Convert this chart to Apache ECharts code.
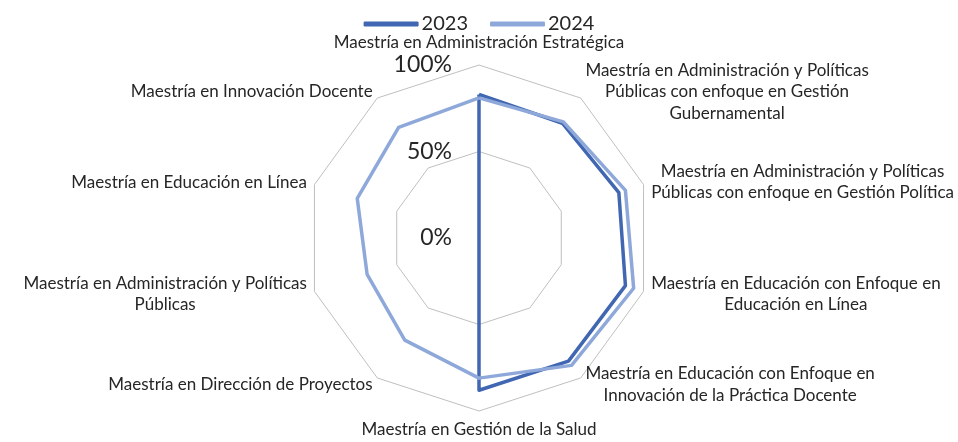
<!DOCTYPE html>
<html>
<head>
<meta charset="utf-8">
<script src="https://cdn.jsdelivr.net/npm/echarts@6/dist/echarts.min.js"></script>
<style>
html,body{margin:0;padding:0;background:#fff;}
#chart{width:958px;height:442px;}
</style>
</head>
<body>
<div id="chart"></div>
<script>
// Programs, listed clockwise from the top
var programs = [
  "Maestría en Administración Estratégica",
  "Maestría en Administración y Políticas\nPúblicas con enfoque en Gestión\nGubernamental",
  "Maestría en Administración y Políticas\nPúblicas con enfoque en Gestión Política",
  "Maestría en Educación con Enfoque en\nEducación en Línea",
  "Maestría en Educación con Enfoque en\nInnovación de la Práctica Docente",
  "Maestría en Gestión de la Salud",
  "Maestría en Dirección de Proyectos",
  "Maestría en Administración y Políticas\nPúblicas",
  "Maestría en Educación en Línea",
  "Maestría en Innovación Docente"
];
var seriesNames = ["2023", "2024"];
var values2023 = [0.83, 0.82, 0.85, 0.89, 0.88, 0.88, 0, 0, 0, 0];
var values2024 = [0.81, 0.83, 0.89, 0.94, 0.91, 0.81, 0.73, 0.68, 0.74, 0.79];
var tickValues = [0, 0.5, 1];

// ECharts lays radar indicators counter-clockwise; reorder to draw clockwise
var order = [0];
for (var i = programs.length - 1; i >= 1; i--) order.push(i);
function reorder(arr) { return order.map(function (k) { return arr[k]; }); }

var indicators = reorder(programs).map(function (name, idx) {
  var ind = { name: name, min: tickValues[0], max: tickValues[tickValues.length - 1] };
  if (idx === 0) {
    ind.axisLabel = {
      show: true,
      fontSize: 23,
      fontFamily: 'Lato',
      color: '#262626',
      margin: 27,
      formatter: function (v) { return Math.round(v * 100) + '%'; }
    };
  }
  return ind;
});

var chart = echarts.init(document.getElementById('chart'), null, { renderer: 'canvas' });
chart.setOption({
  animation: false,
  legend: {
    top: 9,
    left: 'center',
    itemWidth: 55,
    itemHeight: 5,
    itemGap: 22,
    icon: 'roundRect',
    textStyle: { fontSize: 20, fontFamily: 'Lato', color: '#262626', padding: [0, 0, 0, -2] },
    data: seriesNames
  },
  radar: {
    center: [479, 238],
    radius: 173,
    startAngle: 90,
    shape: 'polygon',
    splitNumber: tickValues.length - 1,
    nameGap: 8,
    axisName: {
      color: '#262626',
      fontSize: 17,
      fontFamily: 'Lato',
      lineHeight: 21.5,
      formatter: function (name) {
        return name.split('\n').map(function (l) { return '{c|' + l + '}'; }).join('\n');
      },
      rich: { c: { align: 'center', fontSize: 17, fontFamily: 'Lato', color: '#262626', lineHeight: 21.5 } }
    },
    axisLine: { show: false },
    axisTick: { show: false },
    splitLine: { lineStyle: { color: '#bfbfbf', width: 1 } },
    splitArea: { show: false },
    indicator: indicators
  },
  series: [{
    type: 'radar',
    symbol: 'none',
    data: [
      { name: seriesNames[0], value: reorder(values2023),
        lineStyle: { color: '#4167b2', width: 3.5 }, itemStyle: { color: '#4167b2' } },
      { name: seriesNames[1], value: reorder(values2024),
        lineStyle: { color: '#8fa8da', width: 3.5 }, itemStyle: { color: '#8fa8da' } }
    ]
  }]
});
</script>
</body>
</html>
